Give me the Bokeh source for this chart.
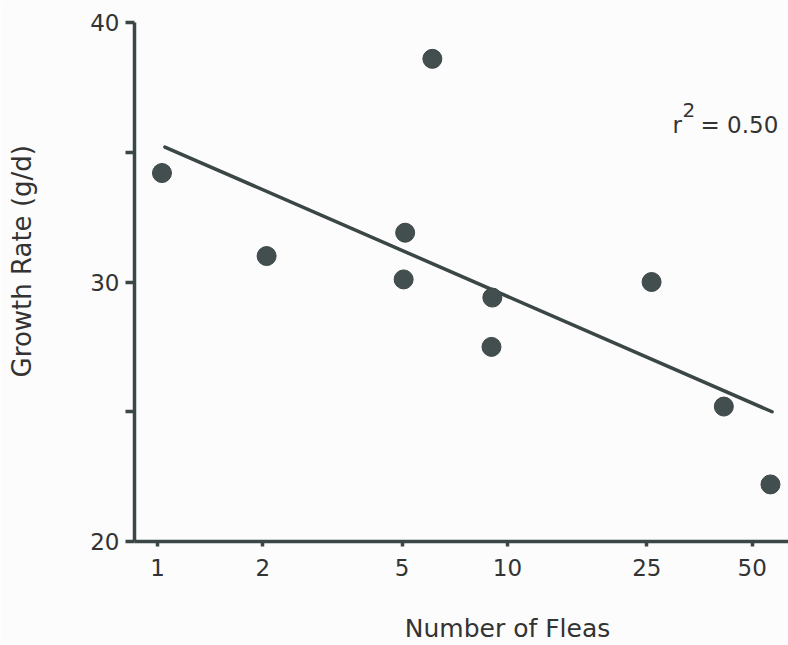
import math
from bokeh.plotting import figure
from bokeh.models import FixedTicker, PrintfTickFormatter, Label, ColumnDataSource, LinearAxis
from bokeh.embed import file_html
from bokeh.resources import INLINE

# Data
fleas = [1.03, 2.05, 5.1, 5.05, 6.1, 9.05, 9.0, 25.8, 41.5, 56.4]
growth = [34.2, 31.0, 31.9, 30.1, 38.6, 29.4, 27.5, 30.0, 25.2, 22.2]
fit_x = [1.05, 57.0]
fit_y = [35.2, 25.0]
x_ticks = [1, 2, 5, 10, 25, 50]
y_major = [20, 30, 40]
y_minor = [25, 35]
x_title = "Number of Fleas"
y_title = "Growth Rate (g/d)"
r2_text = "0.50"

# where the axis titles sit along their axes (data units)
x_title_at = 10
y_title_at = 30.8

INK = "#3b4646"
TXT = "#333333"
BG = "#fcfcfc"
FONT = "DejaVu Sans"

p = figure(width=788, height=645, x_axis_type="log",
           x_range=(0.8597, 63.5), y_range=(20, 40),
           output_backend="svg", toolbar_location=None,
           min_border_left=134, min_border_right=0,
           min_border_top=22, min_border_bottom=103)
p.background_fill_color = BG
p.border_fill_color = BG
p.outline_line_color = None
p.grid.visible = False

# axes styling
for ax in (p.xaxis[0], p.yaxis[0]):
    ax.axis_line_color = INK
    ax.axis_line_width = 3.5
    ax.major_tick_line_color = INK
    ax.major_tick_line_width = 3.5
    ax.minor_tick_line_color = INK
    ax.minor_tick_line_width = 3.5
    ax.major_tick_in = 0
    ax.minor_tick_in = 0
    ax.major_label_text_font = FONT
    ax.major_label_text_font_size = "23px"
    ax.major_label_text_color = TXT

p.yaxis.ticker = FixedTicker(ticks=y_major, minor_ticks=y_minor)
p.yaxis.major_tick_out = 9
p.yaxis.minor_tick_out = 9
p.yaxis.major_label_standoff = 6

p.xaxis.ticker = FixedTicker(ticks=x_ticks, minor_ticks=[])
p.xaxis.formatter = PrintfTickFormatter(format="%d")
p.xaxis.major_tick_out = 5
p.xaxis.minor_tick_out = 0
p.xaxis.major_label_standoff = 12

# axis titles, placed as single labelled ticks on extra (line-less) axes
def title_axis(at, text, standoff, size, orientation="horizontal"):
    ax = LinearAxis(ticker=FixedTicker(ticks=[at], minor_ticks=[]),
                    major_label_overrides={at: text})
    ax.axis_line_color = None
    ax.major_tick_line_color = None
    ax.minor_tick_line_color = None
    ax.major_tick_out = 0
    ax.major_tick_in = 0
    ax.minor_tick_out = 0
    ax.minor_tick_in = 0
    ax.major_label_standoff = standoff
    ax.major_label_text_font = FONT
    ax.major_label_text_font_size = size
    ax.major_label_text_color = TXT
    ax.major_label_orientation = orientation
    return ax

p.add_layout(title_axis(x_title_at, x_title, 35, "25px"), "below")
p.add_layout(title_axis(y_title_at, y_title, 50, "26px", "vertical"), "left")

src = ColumnDataSource(dict(x=fleas, y=growth))
p.line(fit_x, fit_y, line_width=3.5, line_color=INK, line_cap="round")
p.scatter("x", "y", source=src, size=19, fill_color="#434e4e", line_color=INK, line_width=1)

# r^2 annotation
p.add_layout(Label(x=29.6, y=36.04, text="r", text_font=FONT, text_font_size="23px",
                   text_color=TXT, text_baseline="alphabetic"))
p.add_layout(Label(x=31.6, y=36.04, y_offset=15, text="2", text_font=FONT, text_font_size="20px",
                   text_color=TXT, text_baseline="alphabetic"))
p.add_layout(Label(x=35.6, y=36.04, text="= " + r2_text, text_font=FONT, text_font_size="23px",
                   text_color=TXT, text_baseline="alphabetic"))

open("out.html", "w").write(file_html(p, INLINE))
